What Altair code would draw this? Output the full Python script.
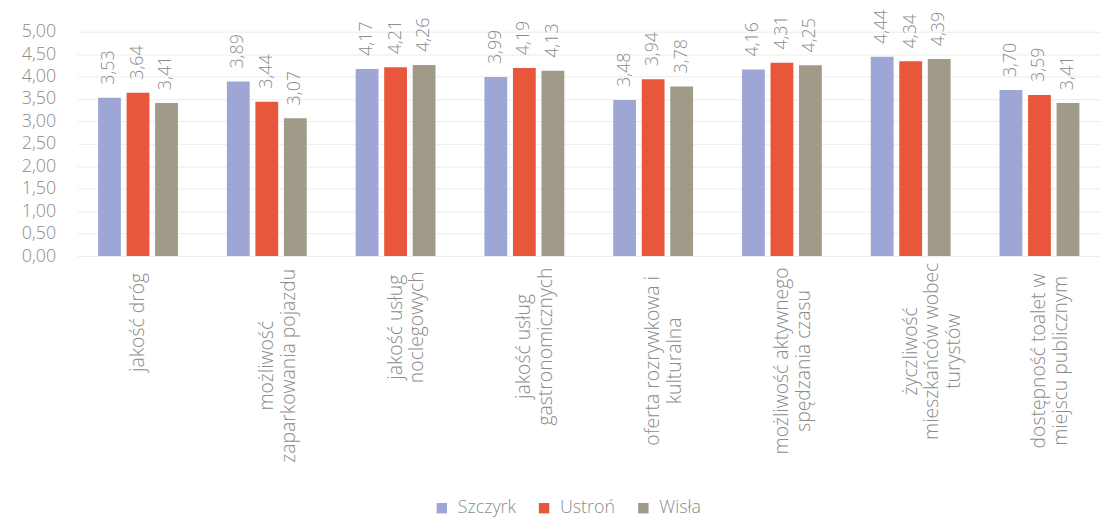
import altair as alt
import pandas as pd

categories = [
    "jakość dróg",
    "możliwość|zaparkowania pojazdu",
    "jakość usług|noclegowych",
    "jakość usług|gastronomicznych",
    "oferta rozrywkowa i|kulturalna",
    "możliwość aktywnego|spędzania czasu",
    "życzliwość|mieszkańców wobec|turystów",
    "dostępność toalet w|miejscu publicznym",
]
series = ["Szczyrk", "Ustroń", "Wisła"]
szczyrk = [3.53, 3.89, 4.17, 3.99, 3.48, 4.16, 4.44, 3.70]
ustron = [3.64, 3.44, 4.21, 4.19, 3.94, 4.31, 4.34, 3.59]
wisla = [3.41, 3.07, 4.26, 4.13, 3.78, 4.25, 4.39, 3.41]
colors = ["#9ea6d6", "#e8573b", "#9f9b88"]
y_ticks = [0, 0.5, 1, 1.5, 2, 2.5, 3, 3.5, 4, 4.5, 5]

rows = []
for s, vals in zip(series, [szczyrk, ustron, wisla]):
    for c, v in zip(categories, vals):
        rows.append({"category": c, "series": s, "value": v})
df = pd.DataFrame(rows)

FONT = "Open Sans"
GRAY = "#8c8c8c"

x_enc = alt.X(
    "category:N",
    sort=categories,
    scale=alt.Scale(paddingInner=0.38, paddingOuter=0.16),
    axis=alt.Axis(
        title=None,
        labelAngle=-90,
        labelAlign="center",
        labelBaseline="middle",
        labelExpr="split(datum.label, '|')",
        labelPadding={"expr": "13 + 4.85*max(length(split(datum.label,'|')[0]), length(split(datum.label,'|')[1] || ''), length(split(datum.label,'|')[2] || ''))"},
        labelLineHeight=22,
        labelFont=FONT,
        labelFontWeight=300,
        labelFontSize=19.5,
        labelColor=GRAY,
        ticks=False,
        domain=False,
        labelLimit=400,
        labelOverlap=False,
    ),
)
xoff = alt.XOffset("series:N", sort=series, scale=alt.Scale(paddingInner=0.2, paddingOuter=0))

y_enc = alt.Y(
    "value:Q",
    scale=alt.Scale(domain=[0, 5], nice=False),
    axis=alt.Axis(
        title=None,
        values=y_ticks,
        labelExpr="replace(format(datum.value, '.2f'), '.', ',')",
        labelFont=FONT,
        labelFontWeight=300,
        labelFontSize=18,
        labelColor=GRAY,
        labelPadding=22,
        labelOverlap=False,
        ticks=False,
        domain=False,
        grid=True,
        gridColor="#ececec",
        gridWidth=1,
    ),
)

base = alt.Chart(df)

bars = base.mark_bar().encode(
    x=x_enc,
    xOffset=xoff,
    y=y_enc,
    color=alt.Color(
        "series:N",
        sort=series,
        scale=alt.Scale(domain=series, range=colors),
        legend=alt.Legend(
            title=None,
            orient="none",
            direction="horizontal",
            legendX=358,
            legendY=471,
            symbolType="square",
            symbolSize=110,
            symbolStrokeWidth=0,
            labelFont=FONT,
            labelFontWeight=300,
            labelFontSize=18,
            labelColor=GRAY,
            columnPadding=19,
            labelOffset=7,
        ),
    ),
)

labels = base.transform_calculate(
    txt="replace(format(datum.value, '.2f'), '.', ',')"
).mark_text(
    angle=270,
    align="left",
    baseline="middle",
    dx=13,
    font=FONT,
    fontWeight=300,
    fontSize=18,
    color=GRAY,
).encode(
    x=x_enc,
    xOffset=xoff,
    y=y_enc,
    text="txt:N",
)

chart = (
    alt.layer(bars, labels)
    .properties(
        width=1030,
        height=226,
        autosize=alt.AutoSizeParams(type="none"),
        padding={"left": 70, "top": 22, "right": 0, "bottom": 262},
    )
    .configure_view(stroke=None)
)

chart.save("out.html", embed_options={"renderer": "svg", "actions": False})
